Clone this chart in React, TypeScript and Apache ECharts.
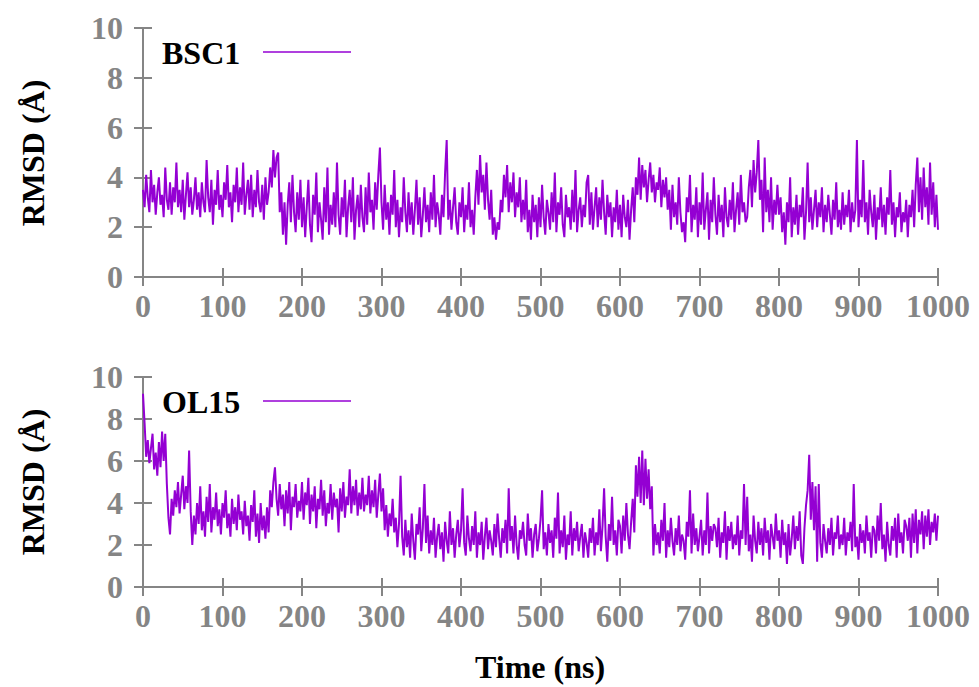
import React, { useEffect, useRef } from "react";
import * as echarts from "echarts";

const STEP_NS = 2;
const X_TICKS = [0, 100, 200, 300, 400, 500, 600, 700, 800, 900, 1000];
const Y_TICKS = [0, 2, 4, 6, 8, 10];

const BSC1 = [
  3.5, 2.8, 4.1, 3.2, 2.6, 4.3, 3.0, 3.7, 2.5, 3.4,
  4.0, 2.9, 3.3, 2.4, 4.4, 3.1, 2.7, 3.8, 2.5, 3.6,
  3.0, 4.6, 2.8, 3.5, 2.6, 3.9, 2.3, 3.3, 4.2, 2.8,
  3.6, 2.5, 3.1, 4.0, 2.7, 3.4, 2.4, 3.8, 3.0, 2.6,
  4.7, 3.2, 2.6, 3.9, 2.1, 3.5, 2.9, 4.3, 2.7, 3.3,
  2.4, 3.8, 3.1, 4.5, 2.8, 3.4, 2.2, 3.7, 3.0, 4.4,
  2.6, 3.6, 2.9, 4.6, 2.5, 3.3, 3.9, 2.7, 4.1, 2.4,
  3.5, 2.8, 4.3, 3.0, 2.6, 3.7, 2.3, 4.0, 2.9, 3.4,
  4.4, 3.6, 5.1, 4.0, 4.8, 5.0, 2.6, 3.4, 1.7, 3.0,
  1.3, 2.9, 3.8, 2.2, 4.1, 2.6, 1.8, 3.4, 2.3, 3.9,
  2.0, 3.2, 1.6, 2.8, 3.9, 2.1, 1.4, 3.3, 2.5, 4.2,
  1.8, 3.0, 2.3, 1.5, 3.6, 2.2, 4.4, 1.7, 2.9, 2.1,
  3.4, 2.0, 4.6, 2.5, 1.7, 3.2, 2.4, 3.9, 1.6, 2.8,
  3.5, 2.2, 4.0, 1.5, 2.7, 3.3, 2.0, 3.7, 2.4, 1.8,
  3.6, 2.1, 4.2, 2.6, 3.1, 1.9, 3.8, 2.7, 4.1, 5.2,
  3.0, 1.9, 3.7, 2.3, 3.0, 1.7, 3.3, 2.5, 4.3, 2.0,
  3.1, 1.6, 2.8, 2.2, 4.0, 2.6, 1.8, 3.4, 2.1, 3.0,
  1.7, 2.7, 3.9, 2.1, 3.2, 1.6, 2.5, 3.6, 2.2, 2.9,
  1.8, 3.4, 2.3, 4.1, 2.0, 3.0, 2.5, 1.7, 3.3, 2.4,
  4.2, 5.5, 2.3, 3.1, 1.9, 2.8, 3.6, 2.2, 1.7, 3.0,
  2.4, 3.6, 1.8, 2.9, 2.3, 3.8, 2.0, 2.7, 1.7, 3.2,
  4.3, 2.9, 4.9, 3.4, 4.1, 2.7, 4.6, 3.1, 2.3, 3.5,
  1.7, 2.4, 1.5, 2.2, 1.9, 3.1, 2.6, 4.1, 3.2, 4.5,
  2.6, 3.8, 3.0, 4.2, 2.4, 3.4, 2.8, 4.0, 2.2, 3.1,
  2.3, 3.9, 1.8, 2.7, 1.5, 3.3, 2.2, 2.9, 1.6, 3.2,
  2.0, 3.7, 2.4, 1.7, 3.1, 2.6, 1.9, 3.4, 2.2, 4.2,
  1.8, 3.0, 2.5, 3.6, 2.1, 1.6, 3.3, 2.4, 2.8, 1.9,
  3.5, 2.2, 4.3, 1.8, 2.7, 3.2, 2.0, 2.9, 2.4, 3.8,
  4.1, 2.1, 3.4, 1.9, 2.8, 3.6, 2.0, 3.2, 2.3, 3.9,
  2.6, 1.7, 3.3, 2.4, 3.0, 1.6, 2.8, 2.2, 3.5, 1.9,
  2.9, 1.6, 3.3, 2.4, 2.0, 3.1, 1.5, 2.7, 3.6, 2.2,
  4.0, 3.3, 4.8, 3.1, 4.5, 3.6, 4.3, 3.0, 3.9, 4.6,
  3.4, 4.1, 3.0, 3.8, 3.5, 4.4, 2.8, 3.9, 3.2, 4.0,
  2.7, 3.5, 1.9, 3.7, 2.4, 3.0, 2.1, 4.0, 2.6, 1.8,
  2.2, 1.4, 3.2, 2.6, 4.1, 1.8, 2.9, 2.3, 3.6, 1.6,
  3.0, 2.1, 4.2, 1.9, 2.7, 3.4, 1.5, 3.1, 2.2, 4.0,
  2.5, 1.7, 3.3, 2.2, 2.9, 1.6, 3.6, 2.4, 2.0, 3.1,
  2.3, 3.8, 1.8, 2.7, 3.4, 2.1, 4.1, 2.6, 3.0, 2.2,
  2.4, 3.6, 4.3, 2.8, 4.7, 3.4, 4.2, 5.5, 3.1, 3.9,
  1.8, 4.8, 2.6, 3.5, 2.2, 4.0, 1.9, 3.1, 2.5, 3.7,
  2.5, 3.2, 1.8, 2.6, 1.3, 3.0, 2.2, 4.0, 1.6, 2.8,
  2.1, 3.3, 1.7, 2.9, 2.4, 3.6, 1.5, 2.6, 4.6, 2.2,
  3.2, 1.9, 2.7, 3.5, 2.0, 3.0, 2.4, 3.6, 1.8, 2.9,
  2.2, 3.3, 2.5, 1.7, 3.1, 2.3, 3.8, 2.0, 2.7, 1.9,
  3.4, 2.1, 2.9, 2.4, 3.5, 1.8, 3.0, 2.2, 2.7, 5.5,
  2.0, 3.1, 2.4, 4.7, 2.2, 3.0, 1.7, 3.5, 2.6, 2.0,
  3.3, 1.5, 2.8, 2.3, 3.6, 2.0, 2.9, 1.7, 3.2, 2.5,
  4.3, 2.1, 3.0, 1.6, 2.8, 2.4, 3.4, 1.8, 2.6, 2.2,
  3.1, 1.6, 2.9, 2.4, 3.5, 2.0, 3.7, 4.8, 2.6, 4.0,
  2.3, 4.4, 2.8, 3.6, 2.1, 4.6, 2.5, 3.8, 2.0, 3.3,
  1.9,
];

const OL15 = [
  9.2, 7.8, 6.2, 7.0, 5.9, 6.6, 7.3, 5.6, 6.4, 5.3,
  6.9, 5.7, 7.4, 6.0, 7.3, 4.9, 3.3, 2.5, 4.2, 3.4,
  4.6, 3.8, 5.0, 3.5, 4.4, 5.3, 3.7, 4.8, 4.0, 6.5,
  3.6, 2.0, 3.4, 2.5, 4.0, 3.0, 4.8, 2.7, 3.6, 2.4,
  4.3, 3.1, 4.9, 2.6, 3.8, 3.2, 4.5, 2.9, 3.7, 2.5,
  4.0, 3.3, 4.6, 2.8, 3.5, 2.4, 4.2, 3.0, 3.8, 2.7,
  4.4, 3.2, 3.6, 2.5, 4.1, 2.9, 3.4, 2.2, 3.9, 3.1,
  4.6, 2.4, 3.5, 2.1, 4.0, 2.7, 3.4, 2.3, 3.8, 2.6,
  4.6, 3.8, 5.0, 5.7, 4.2, 3.4, 4.9, 3.7, 4.4, 2.9,
  4.6, 3.5, 5.0, 2.7, 4.3, 3.8, 4.9, 3.3, 4.1, 3.6,
  5.0, 3.2, 4.5, 3.9, 5.2, 3.0, 4.4, 3.6, 4.8, 2.8,
  4.2, 3.7, 5.1, 3.4, 4.6, 2.9, 4.0, 3.5, 4.9, 3.2,
  4.5, 3.8, 4.2, 2.6, 4.7, 3.6, 5.0, 3.3, 4.3, 3.9,
  5.6, 3.5, 4.8, 3.9, 5.1, 3.4, 4.5, 3.7, 5.2, 3.6,
  4.4, 3.9, 5.3, 3.5, 4.6, 3.8, 5.1, 3.3, 4.4, 5.4,
  3.6, 4.7, 2.7, 3.9, 2.4, 3.5, 2.9, 4.2, 2.6, 3.3,
  1.9, 3.0, 5.3, 2.4, 1.5, 3.2, 1.9, 2.7, 1.4, 3.5,
  2.2, 1.3, 3.0, 2.5, 3.8, 1.7, 2.8, 4.9, 2.1, 3.4,
  1.6, 2.7, 2.0, 3.3, 1.4, 2.4, 3.0, 1.8, 2.6, 1.2,
  3.1, 2.2, 1.6, 3.6, 2.0, 2.8, 1.4, 2.5, 3.2, 1.9,
  2.7, 4.7, 2.1, 1.5, 3.4, 2.3, 1.7, 2.9, 2.0, 3.6,
  1.4, 2.6, 2.0, 3.1, 1.3, 2.4, 3.3, 1.8, 2.7, 2.2,
  1.5, 3.0, 1.9, 3.5, 2.3, 1.4, 2.8, 2.1, 3.2, 1.6,
  4.7, 2.2, 2.9, 1.6, 3.4, 2.0, 1.3, 2.7, 2.3, 3.1,
  2.0, 1.5, 3.5, 2.2, 2.8, 1.4, 2.5, 3.0, 1.7, 2.3,
  3.2, 4.6, 1.8, 2.6, 1.5, 3.0, 2.1, 2.7, 1.4, 3.3,
  2.3, 4.5, 1.6, 2.7, 1.9, 3.4, 1.3, 2.5, 2.0, 3.6,
  1.5, 2.8, 2.2, 3.1, 1.7, 2.4, 3.0, 1.4, 2.6, 2.1,
  1.4, 2.8, 2.1, 3.3, 1.5, 2.6, 2.0, 3.7, 1.7, 2.9,
  4.7, 2.4, 1.2, 3.0, 2.2, 4.3, 2.0, 2.7, 1.5, 3.2,
  2.9, 1.6, 3.4, 2.2, 4.0, 2.5, 1.8, 3.1, 4.2, 2.6,
  5.8, 4.3, 6.2, 4.0, 6.5, 3.9, 6.1, 4.2, 5.6, 3.7,
  4.8, 1.5, 3.0, 2.0, 2.6, 1.6, 3.2, 2.2, 4.0, 1.4,
  2.7, 1.9, 3.3, 2.2, 1.5, 2.8, 2.0, 3.4, 1.7, 2.5,
  2.2, 1.3, 3.1, 2.4, 4.6, 1.6, 3.5, 2.0, 2.8, 1.7,
  2.4, 3.2, 1.5, 2.7, 2.0, 4.5, 1.6, 2.9, 2.2, 3.0,
  2.8, 1.9, 3.3, 1.4, 2.6, 2.1, 3.6, 1.3, 2.9, 2.2,
  3.1, 1.8, 2.5, 2.0, 3.4, 1.5, 2.7, 2.3, 4.9, 2.0,
  4.3, 1.7, 2.5, 1.2, 3.4, 2.2, 1.6, 3.1, 2.0, 2.8,
  1.5, 3.3, 2.1, 2.7, 1.3, 3.0, 2.4, 1.8, 3.5, 2.2,
  2.7, 1.4, 3.2, 2.0, 2.6, 1.1, 3.0, 1.5, 2.3, 3.4,
  1.8, 2.9, 2.2, 3.6, 1.5, 1.1, 2.8, 3.9, 4.6, 6.3,
  3.2, 5.0, 2.7, 4.8, 1.2, 4.9, 2.1, 1.4, 3.0, 2.2,
  1.6, 2.8, 2.0, 3.3, 1.5, 2.6, 2.3, 3.4, 1.8, 2.5,
  2.0, 3.3, 1.5, 2.6, 2.2, 3.1, 1.7, 4.9, 1.9, 2.4,
  1.3, 3.0, 2.1, 2.7, 1.6, 3.4, 2.2, 2.6, 1.4, 2.9,
  2.7, 1.6, 3.4, 2.2, 4.0, 1.8, 2.5, 1.2, 3.1, 2.0,
  1.5, 2.9, 2.2, 3.3, 1.4, 3.5, 2.1, 2.6, 1.6, 3.2,
  2.9, 2.2, 3.3, 1.4, 3.5, 2.1, 3.7, 1.6, 3.2, 2.5,
  3.6, 1.8, 3.4, 2.4, 3.7, 2.0, 3.1, 2.6, 3.5, 2.2,
  3.4,
];

const SERIES_NAMES = ["BSC1", "OL15"];
const Y_TITLE = "RMSD (Å)";
const X_TITLE = "Time (ns)";

const LINE_COLOR = "#9400D3";
const GRAY = "#858585";
const FONT = "'Liberation Serif', 'Times New Roman', serif";

function toPairs(vals: number[]) {
  return vals.map((v, i) => [i * STEP_NS, v]);
}

export default function App() {
  const ref = useRef<HTMLDivElement>(null);

  useEffect(() => {
    if (!ref.current) return;
    const chart = echarts.init(ref.current, null, { renderer: "svg" });

    const grids = [
      { left: 143, right: 41, top: 28, height: 249 },
      { left: 143, right: 41, top: 377, height: 210 },
    ];

    const axisLine = { show: true, lineStyle: { color: GRAY, width: 2 } };
    const tick = { show: true, inside: true, length: 9, lineStyle: { color: GRAY, width: 2 } };
    const labelStyle = {
      color: GRAY,
      fontFamily: FONT,
      fontWeight: "bold" as const,
      fontSize: 32,
    };

    const xAxes: any[] = [];
    const yAxes: any[] = [];
    [0, 1].forEach((g) => {
      xAxes.push({
        type: "value",
        gridIndex: g,
        min: X_TICKS[0],
        max: X_TICKS[X_TICKS.length - 1],
        interval: 100,
        position: "bottom",
        axisLine,
        axisTick: tick,
        splitLine: { show: false },
        axisLabel: {
          ...labelStyle,
          margin: 13,
          showMinLabel: true,
          showMaxLabel: true,
          formatter: (v: number) => String(v),
        },
      });
      xAxes.push({
        type: "value",
        gridIndex: g,
        min: X_TICKS[0],
        max: X_TICKS[X_TICKS.length - 1],
        interval: 100,
        position: "top",
        axisLine,
        axisTick: tick,
        splitLine: { show: false },
        axisLabel: { show: false },
      });
      yAxes.push({
        type: "value",
        gridIndex: g,
        min: Y_TICKS[0],
        max: Y_TICKS[Y_TICKS.length - 1],
        interval: 2,
        position: "left",
        axisLine,
        axisTick: tick,
        splitLine: { show: false },
        axisLabel: { ...labelStyle, margin: 20, formatter: (v: number) => String(v) },
      });
      yAxes.push({
        type: "value",
        gridIndex: g,
        min: Y_TICKS[0],
        max: Y_TICKS[Y_TICKS.length - 1],
        interval: 2,
        position: "right",
        axisLine,
        axisTick: tick,
        splitLine: { show: false },
        axisLabel: { show: false },
      });
    });

    const titleStyle = {
      fill: "#000",
      font: `bold 32px ${FONT}`,
      align: "center",
      verticalAlign: "middle",
    };

    const legendY = [53, 402];
    const graphic: any[] = [];
    [0, 1].forEach((g) => {
      graphic.push({
        type: "text",
        x: 33,
        y: g === 0 ? 153 : 482,
        rotation: Math.PI / 2,
        style: { ...titleStyle, text: Y_TITLE },
      });
      graphic.push({
        type: "text",
        x: 162,
        y: legendY[g],
        style: {
          text: SERIES_NAMES[g],
          fill: "#000",
          font: `bold 32px ${FONT}`,
          align: "left",
          verticalAlign: "middle",
        },
      });
      graphic.push({
        type: "line",
        shape: { x1: 263, y1: legendY[g] - 1, x2: 351, y2: legendY[g] - 1 },
        style: { stroke: LINE_COLOR, lineWidth: 1.5 },
      });
    });
    graphic.push({
      type: "text",
      x: 540,
      y: 667,
      style: { ...titleStyle, text: X_TITLE },
    });

    chart.setOption({
      animation: false,
      backgroundColor: "#fff",
      grid: grids,
      xAxis: xAxes,
      yAxis: yAxes,
      graphic,
      series: [
        {
          name: SERIES_NAMES[0],
          type: "line",
          xAxisIndex: 0,
          yAxisIndex: 0,
          data: toPairs(BSC1),
          showSymbol: false,
          lineStyle: { color: LINE_COLOR, width: 2 },
          itemStyle: { color: LINE_COLOR },
        },
        {
          name: SERIES_NAMES[1],
          type: "line",
          xAxisIndex: 2,
          yAxisIndex: 2,
          data: toPairs(OL15),
          showSymbol: false,
          lineStyle: { color: LINE_COLOR, width: 2 },
          itemStyle: { color: LINE_COLOR },
        },
      ],
    });

    return () => chart.dispose();
  }, []);

  return (
    <div
      ref={ref}
      style={{ position: "fixed", left: 0, top: 0, width: 979, height: 687, background: "#fff" }}
    />
  );
}
